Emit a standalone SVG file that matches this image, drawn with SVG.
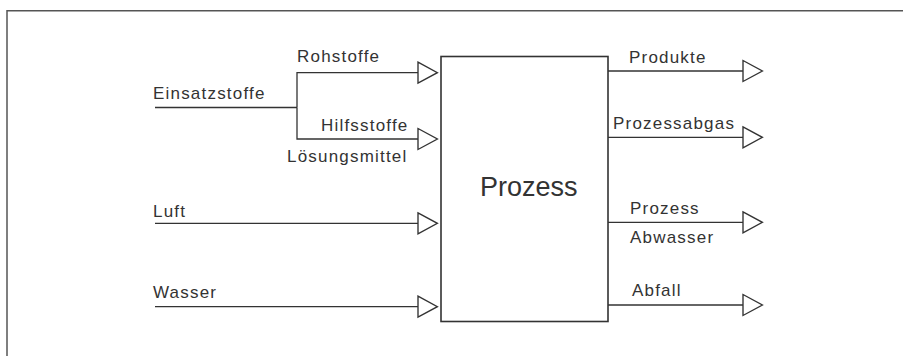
<svg xmlns="http://www.w3.org/2000/svg" width="903" height="356" viewBox="0 0 903 356">
  <style>
    .frame { fill: none; stroke: #555; stroke-width: 1.5; }
    .box { fill: #fff; stroke: #333; stroke-width: 1.6; }
    .conn { fill: none; stroke: #333; stroke-width: 1.3; marker-end: url(#open); }
    .plain { fill: none; stroke: #333; stroke-width: 1.3; }
    .lbl { font-family: "Liberation Sans", Arial, sans-serif; font-size: 17px; letter-spacing: 1.2px; fill: #333; }
    .title { font-family: "Liberation Sans", Arial, sans-serif; font-size: 27px; fill: #333; }
  </style>
  <defs>
    <marker id="open" markerUnits="userSpaceOnUse" markerWidth="22" markerHeight="24" viewBox="-1 -1 21 22" refX="0" refY="10" orient="auto" overflow="visible">
      <path d="M0,0 L18.5,10 L0,20 Z" fill="#fff" stroke="#333" stroke-width="1.3"/>
    </marker>
  </defs>
  <rect width="903" height="356" fill="#fff"/>
  <path class="frame" d="M7,356 V10.7 H903"/>

  <g id="prozess">
    <rect class="box" x="441" y="56.5" width="167" height="265"/>
    <text class="title" x="480" y="196">Prozess</text>
  </g>

  <g id="connectors">
    <path class="plain" d="M155,107.5 H297"/>
    <path class="conn" d="M297,107.5 V72.7 H418"/>
    <path class="conn" d="M297,107.5 V139 H418"/>
    <path class="conn" d="M155,223.3 H418"/>
    <path class="conn" d="M155,306.7 H418"/>
    <path class="conn" d="M608,71 H743"/>
    <path class="conn" d="M608,137.3 H743"/>
    <path class="conn" d="M608,222.3 H743"/>
    <path class="conn" d="M608,305 H743"/>
  </g>

  <g id="labels">
    <text class="lbl" x="153" y="99">Einsatzstoffe</text>
    <text class="lbl" x="297" y="62">Rohstoffe</text>
    <text class="lbl" x="321" y="130.5">Hilfsstoffe</text>
    <text class="lbl" x="287" y="162">Lösungsmittel</text>
    <text class="lbl" x="153" y="216.5">Luft</text>
    <text class="lbl" x="153" y="298">Wasser</text>
    <text class="lbl" x="629" y="63">Produkte</text>
    <text class="lbl" x="613" y="129">Prozessabgas</text>
    <text class="lbl" x="630" y="214">Prozess</text>
    <text class="lbl" x="630" y="243">Abwasser</text>
    <text class="lbl" x="632" y="296">Abfall</text>
  </g>
</svg>
